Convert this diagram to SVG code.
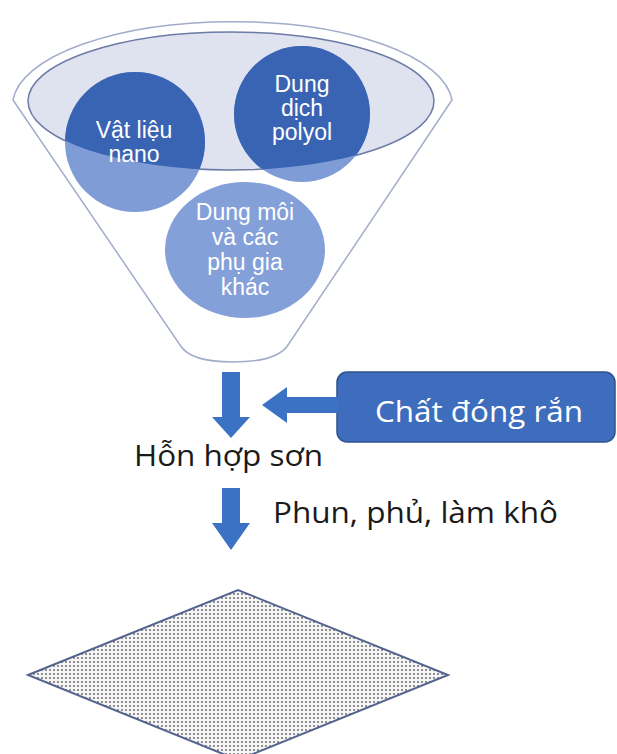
<svg xmlns="http://www.w3.org/2000/svg" width="617" height="754" viewBox="0 0 617 754">
<style>
.ctext{font-family:"Liberation Sans",Arial,sans-serif;font-size:23px;fill:#ffffff;text-anchor:middle}
.label{font-family:"Open Sans","Noto Sans",sans-serif;font-size:29px;fill:#1a1a1a}
.arrow{fill:#3b72c4}
</style>
<defs>
<clipPath id="inner"><ellipse cx="231" cy="101" rx="203" ry="69"/></clipPath>
<pattern id="dots" width="4" height="4" patternUnits="userSpaceOnUse">
<rect width="4" height="4" fill="#f6f6f6"/>
<rect x="1" y="1" width="2" height="2" fill="#8f8f8f"/>
</pattern>
</defs>
<g id="funnel">
<path d="M 13 100 A 220 84 0 0 1 452 100 L 288 345 Q 277 362 233 362 Q 190 362 180 345 Z" fill="#ffffff" stroke="#a3adcb" stroke-width="1.5"/>
<ellipse cx="231" cy="101" rx="203" ry="69" fill="#dfe3f0" stroke="#6c7aa5" stroke-width="1.5"/>
</g>
<g id="node-nano">
<circle cx="135" cy="142" r="70" fill="#809cd6"/>
<circle cx="135" cy="142" r="70" fill="#3963b3" clip-path="url(#inner)"/>
<text class="ctext" x="134" y="138">Vật liệu</text>
<text class="ctext" x="134" y="162">nano</text>
</g>
<g id="node-polyol">
<circle cx="302" cy="114" r="68" fill="#809cd6"/>
<circle cx="302" cy="114" r="68" fill="#3963b3" clip-path="url(#inner)"/>
<text class="ctext" x="302" y="92">Dung</text>
<text class="ctext" x="302" y="116">dịch</text>
<text class="ctext" x="302" y="140">polyol</text>
</g>
<g id="node-dungmoi">
<ellipse cx="245" cy="250" rx="80" ry="68" fill="#84a0d9"/>
<text class="ctext" x="245" y="220">Dung môi</text>
<text class="ctext" x="245" y="245">và các</text>
<text class="ctext" x="245" y="270">phụ gia</text>
<text class="ctext" x="245" y="295">khác</text>
</g>
<g id="node-chatdongran">
<rect x="337" y="372" width="278" height="70" rx="10" fill="#3f6dbd" stroke="#2f528f" stroke-width="1.5"/>
<text x="479" y="422" font-family="'Open Sans','Noto Sans',sans-serif" font-size="29" fill="#ffffff" text-anchor="middle" textLength="208" lengthAdjust="spacingAndGlyphs">Chất đóng rắn</text>
</g>
<g id="node-honhopson">
<text class="label" x="134" y="466" textLength="189" lengthAdjust="spacingAndGlyphs">Hỗn hợp sơn</text>
</g>
<g id="node-surface">
<polygon points="28,675 238,590 448,675 238,760" fill="url(#dots)" stroke="#55638f" stroke-width="2"/>
</g>
<g id="connectors">
<polygon class="arrow" points="222,372 240,372 240,417 250,417 231,438 212,417 222,417"/>
<polygon class="arrow" points="338,397 287,397 287,387 262,405 287,423 287,413 338,413"/>
<polygon class="arrow" points="222,488 240,488 240,523 250,523 231,550 212,523 222,523"/>
<text class="label" x="273" y="523" textLength="285" lengthAdjust="spacingAndGlyphs">Phun, phủ, làm khô</text>
</g>
</svg>
